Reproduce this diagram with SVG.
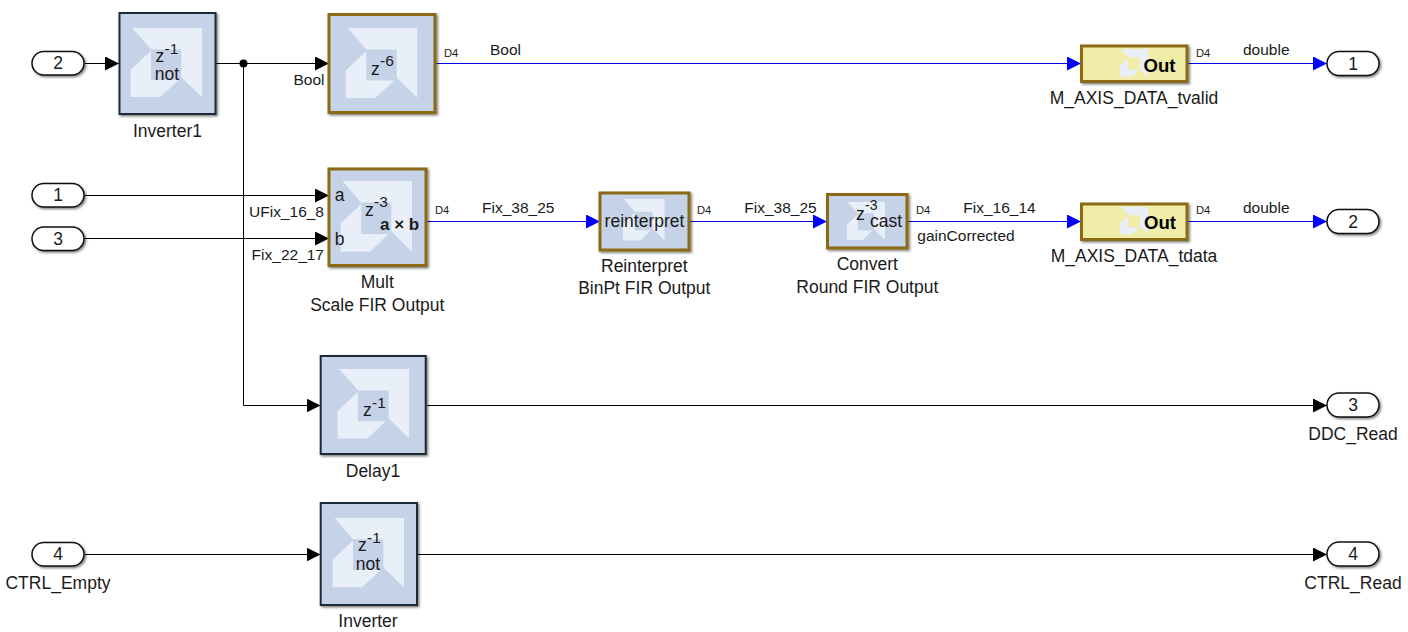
<svg xmlns="http://www.w3.org/2000/svg" width="1408" height="632" viewBox="0 0 1408 632">
<style>
text{font-family:"Liberation Sans",Arial,sans-serif;fill:#1a1a1a}
.n{font-size:17.5px;text-anchor:middle}
.l{font-size:15.5px}
.r{text-anchor:end}
.d{font-size:11.2px}
.i{font-size:17.5px}
.s{font-size:15.5px}
.c{font-size:14px}
.b{font-size:17px;font-weight:bold}
.o{font-size:18.6px;font-weight:bold;fill:#000}
.p{font-size:17.5px;text-anchor:middle}
.blk{fill:#c5d2e8;stroke:#1f2a36;stroke-width:2;filter:url(#sh)}
.brn{fill:#c5d2e8;stroke:#8b6a14;stroke-width:3;filter:url(#sh)}
.out{fill:#f1eca8;stroke:#8b6a14;stroke-width:3;filter:url(#sh)}
.pill{fill:#fff;stroke:#111;stroke-width:1.5;filter:url(#sh)}
.k{fill:none;stroke:#000;stroke-width:1;marker-end:url(#ak)}
.u{fill:none;stroke:#0000e6;stroke-width:1;marker-end:url(#au)}
.lg{fill:#e9eff8}
</style>
<defs>
<filter id="sh" x="-10%" y="-10%" width="125%" height="125%"><feDropShadow dx="1.5" dy="1.5" stdDeviation="1" flood-color="#000" flood-opacity="0.5"/></filter>
<marker id="ak" markerUnits="userSpaceOnUse" markerWidth="14" markerHeight="14" refX="14" refY="7" orient="auto"><path d="M0 0L14 7L0 14Z" fill="#000"/></marker>
<marker id="au" markerUnits="userSpaceOnUse" markerWidth="14" markerHeight="14" refX="14" refY="7" orient="auto"><path d="M0 0L14 7L0 14Z" fill="#0000ff"/></marker>
<symbol id="logo" viewBox="0 0 215 208" preserveAspectRatio="none"><path class="lg" d="M6 0H215V208L153 148V64H62Z"/><path class="lg" d="M62 68L0 126V208H89L145 156H62Z"/></symbol>
</defs>
<g id="connectors">
<path class="k" d="M85 63.5H119"/>
<path class="k" d="M216 63.5H329"/>
<path class="k" d="M243.5 63.5V405.5H320.5"/>
<circle cx="243.5" cy="63.5" r="4" fill="#000"/>
<path class="u" d="M436 63.5H1081"/>
<path class="u" d="M1188 63.5H1327"/>
<path class="k" d="M85 195.5H329"/>
<path class="k" d="M85 238.5H329"/>
<path class="u" d="M427 221.5H600"/>
<path class="u" d="M690 221.5H827"/>
<path class="u" d="M908 221.5H1081"/>
<path class="u" d="M1188 221.5H1327"/>
<path class="k" d="M427 405.5H1327"/>
<path class="k" d="M85 554.5H320.5"/>
<path class="k" d="M418 554.5H1327"/>
<text class="l r" x="324.5" y="85">Bool</text>
<text class="d" x="444" y="57">D4</text>
<text class="l" x="490" y="55">Bool</text>
<text class="d" x="1196" y="57">D4</text>
<text class="l" x="1243" y="55">double</text>
<text class="l r" x="324" y="216.7">UFix_16_8</text>
<text class="l r" x="324" y="260">Fix_22_17</text>
<text class="d" x="435" y="214">D4</text>
<text class="l" x="482" y="212.7">Fix_38_25</text>
<text class="d" x="697" y="214">D4</text>
<text class="l" x="744.3" y="212.7">Fix_38_25</text>
<text class="d" x="916" y="214">D4</text>
<text class="l" x="963.3" y="212.7">Fix_16_14</text>
<text class="l" x="917.3" y="240.7">gainCorrected</text>
<text class="d" x="1196" y="214">D4</text>
<text class="l" x="1243" y="213">double</text>
</g>
<g id="in2"><rect class="pill" x="32" y="51.5" width="52" height="23.5" rx="11.7"/><text class="p" x="58" y="69.3">2</text></g>
<g id="in1"><rect class="pill" x="32" y="183.5" width="52" height="23.5" rx="11.7"/><text class="p" x="58" y="201.3">1</text></g>
<g id="in3"><rect class="pill" x="32" y="227" width="52" height="23.5" rx="11.7"/><text class="p" x="58" y="244.8">3</text></g>
<g id="in4"><rect class="pill" x="32" y="542.5" width="52" height="23.5" rx="11.7"/><text class="p" x="58" y="560.3">4</text><text class="n" x="58" y="589">CTRL_Empty</text></g>
<g id="Inverter1"><rect class="blk" x="119.5" y="13" width="96" height="101"/><use href="#logo" x="130.3" y="28" width="71.7" height="69.3"/>
<text class="i" x="155.5" y="62">z</text><text class="s" x="164.5" y="54">-1</text><text class="i" x="167" y="80" text-anchor="middle">not</text><text class="n" x="167.5" y="136.7">Inverter1</text></g>
<g id="Delay6"><rect class="brn" x="329" y="14.5" width="106" height="98"/><use href="#logo" x="345.7" y="28" width="71.7" height="70"/>
<text class="i" x="371" y="74.7">z</text><text class="s" x="380" y="66">-6</text></g>
<g id="Mult"><rect class="brn" x="329" y="169" width="97" height="96.5"/><use href="#logo" x="340.3" y="180.7" width="71.7" height="71"/>
<text class="i" x="334.7" y="200.7">a</text><text class="i" x="334.7" y="245">b</text><text class="i" x="365" y="215.5">z</text><text class="s" x="374" y="207">-3</text><text class="b" x="380" y="230">a × b</text>
<text class="n" x="377.3" y="288.3">Mult</text><text class="n" x="377.3" y="310.7">Scale FIR Output</text></g>
<g id="Reinterpret"><rect class="brn" x="600" y="193" width="89" height="57"/><use href="#logo" x="622.7" y="199" width="42" height="41.7"/>
<text class="i" x="644.5" y="226.7" text-anchor="middle">reinterpret</text>
<text class="n" x="644.3" y="271.7">Reinterpret</text><text class="n" x="644.3" y="294">BinPt FIR Output</text></g>
<g id="Convert"><rect class="brn" x="827.5" y="194.5" width="79.5" height="53.5"/><use href="#logo" x="846.7" y="201.7" width="38.3" height="38.3"/>
<text class="i" x="856" y="220">z</text><text class="c" x="865" y="209.5">-3</text><text class="i" x="870" y="227">cast</text>
<text class="n" x="867.3" y="270">Convert</text><text class="n" x="867.3" y="292.7">Round FIR Output</text></g>
<g id="M_AXIS_DATA_tvalid"><rect class="out" x="1081.5" y="46" width="105.5" height="35.5"/><use href="#logo" x="1120" y="49" width="28" height="27.7"/>
<text class="o" x="1143.5" y="71.7">Out</text><text class="n" x="1134" y="104">M_AXIS_DATA_tvalid</text></g>
<g id="M_AXIS_DATA_tdata"><rect class="out" x="1081.5" y="204" width="105.5" height="35.5"/><use href="#logo" x="1120" y="206.7" width="28" height="27.7"/>
<text class="o" x="1144" y="229.3">Out</text><text class="n" x="1134" y="262">M_AXIS_DATA_tdata</text></g>
<g id="Delay1"><rect class="blk" x="320.7" y="356" width="105" height="98"/><use href="#logo" x="337.3" y="369" width="72" height="69.7"/>
<text class="i" x="363" y="416">z</text><text class="s" x="372" y="408">-1</text><text class="n" x="373" y="476.7">Delay1</text></g>
<g id="Inverter"><rect class="blk" x="320.7" y="503" width="96.3" height="102"/><use href="#logo" x="332.3" y="517.7" width="71.7" height="69.7"/>
<text class="i" x="358" y="551">z</text><text class="s" x="367" y="543">-1</text><text class="i" x="368" y="570" text-anchor="middle">not</text><text class="n" x="368" y="627">Inverter</text></g>
<g id="out1"><rect class="pill" x="1327" y="51.5" width="52" height="24" rx="12"/><text class="p" x="1353" y="69.5">1</text></g>
<g id="out2"><rect class="pill" x="1327" y="209.5" width="52" height="24" rx="12"/><text class="p" x="1353" y="227.5">2</text></g>
<g id="out3"><rect class="pill" x="1327" y="393" width="52" height="24" rx="12"/><text class="p" x="1353" y="411">3</text><text class="n" x="1353" y="440">DDC_Read</text></g>
<g id="out4"><rect class="pill" x="1327" y="542" width="52" height="24" rx="12"/><text class="p" x="1353" y="560">4</text><text class="n" x="1353" y="589">CTRL_Read</text></g>
</svg>
